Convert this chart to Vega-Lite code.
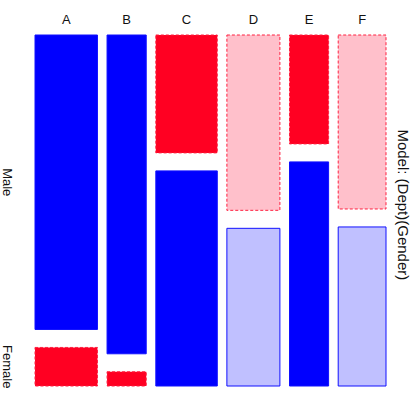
{
  "$schema": "https://vega.github.io/schema/vega-lite/v6.json",
  "width": 351,
  "height": 351,
  "autosize": "none",
  "padding": {"left": 35, "top": 35, "right": 31, "bottom": 13},
  "background": "white",
  "config": {"view": {"stroke": null}, "text": {"font": "Liberation Sans", "color": "#111111"}},
  "data": {"values": [
    {"Dept": "A", "Gender": "Male", "Count": 825, "Residual": 11.48},
    {"Dept": "A", "Gender": "Female", "Count": 108, "Residual": -13.90},
    {"Dept": "B", "Gender": "Male", "Count": 560, "Residual": 11.38},
    {"Dept": "B", "Gender": "Female", "Count": 25, "Residual": -13.78},
    {"Dept": "C", "Gender": "Male", "Count": 325, "Residual": -9.45},
    {"Dept": "C", "Gender": "Female", "Count": 593, "Residual": 11.45},
    {"Dept": "D", "Gender": "Male", "Count": 417, "Residual": -2.48},
    {"Dept": "D", "Gender": "Female", "Count": 375, "Residual": 3.01},
    {"Dept": "E", "Gender": "Male", "Count": 191, "Residual": -8.38},
    {"Dept": "E", "Gender": "Female", "Count": 393, "Residual": 10.15},
    {"Dept": "F", "Gender": "Male", "Count": 373, "Residual": -2.50},
    {"Dept": "F", "Gender": "Female", "Count": 341, "Residual": 3.03}
  ]},
  "transform": [
    {"window": [{"op": "dense_rank", "as": "DeptIndex"}], "sort": [{"field": "Dept", "order": "ascending"}]},
    {"stack": "Count", "groupby": [], "sort": [{"field": "Dept", "order": "ascending"}, {"field": "Gender", "order": "descending"}], "as": ["cx0", "cx1"]},
    {"joinaggregate": [{"op": "min", "field": "cx0", "as": "DeptStart"}, {"op": "max", "field": "cx1", "as": "DeptEnd"}], "groupby": ["Dept"]},
    {"stack": "Count", "groupby": ["Dept"], "sort": [{"field": "Gender", "order": "descending"}], "offset": "normalize", "as": ["ny0", "ny1"]},
    {"calculate": "datum.DeptStart + (datum.DeptIndex - 1) * 143.4", "as": "x0"},
    {"calculate": "datum.DeptEnd + (datum.DeptIndex - 1) * 143.4", "as": "x1"},
    {"calculate": "(datum.x0 + datum.x1) / 2", "as": "xm"},
    {"calculate": "datum.Gender == 'Female' ? datum.ny0 + 0.054 : datum.ny0", "as": "yy0"},
    {"calculate": "datum.Gender == 'Female' ? datum.ny1 + 0.054 : datum.ny1", "as": "yy1"},
    {"calculate": "(datum.yy0 + datum.yy1) / 2", "as": "ym"}
  ],
  "layer": [
    {
      "transform": [{"filter": "datum.Residual >= 0"}],
      "mark": {"type": "rect", "strokeWidth": 1, "stroke": "#1010FF", "strokeJoin": "miter", "cornerRadius": 0},
      "encoding": {
        "x": {"field": "x0", "type": "quantitative", "scale": {"domain": [0, 5243], "nice": false, "zero": false}, "axis": null},
        "x2": {"field": "x1"},
        "y": {"field": "yy0", "type": "quantitative", "scale": {"domain": [0, 1.054], "reverse": true, "nice": false, "zero": false}, "axis": null},
        "y2": {"field": "yy1"},
        "fill": {"field": "Residual", "type": "quantitative", "scale": {"type": "threshold", "domain": [-4, -2, 2, 4], "range": ["#FF0022", "#FFC0CB", "#FFFFFF", "#C0C0FF", "#0000FF"]}, "legend": null}
      }
    },
    {
      "transform": [{"filter": "datum.Residual < 0"}],
      "mark": {"type": "rect", "strokeWidth": 1, "stroke": "#FF2040", "strokeDash": [3, 2], "strokeJoin": "miter", "cornerRadius": 0},
      "encoding": {
        "x": {"field": "x0", "type": "quantitative", "scale": {"domain": [0, 5243], "nice": false, "zero": false}, "axis": null},
        "x2": {"field": "x1"},
        "y": {"field": "yy0", "type": "quantitative", "scale": {"domain": [0, 1.054], "reverse": true, "nice": false, "zero": false}, "axis": null},
        "y2": {"field": "yy1"},
        "fill": {"field": "Residual", "type": "quantitative", "scale": {"type": "threshold", "domain": [-4, -2, 2, 4], "range": ["#FF0022", "#FFC0CB", "#FFFFFF", "#C0C0FF", "#0000FF"]}, "legend": null}
      }
    },
    {
      "transform": [{"filter": "datum.Gender == 'Male'"}],
      "mark": {"type": "text", "fontSize": 13, "baseline": "middle", "align": "center"},
      "encoding": {
        "x": {"field": "xm", "type": "quantitative"},
        "y": {"datum": -0.045, "type": "quantitative"},
        "text": {"field": "Dept"}
      }
    },
    {
      "transform": [{"filter": "datum.Dept == 'A'"}],
      "mark": {"type": "text", "fontSize": 13, "angle": 90, "baseline": "middle", "align": "center"},
      "encoding": {
        "x": {"datum": -418, "type": "quantitative"},
        "y": {"field": "ym", "type": "quantitative"},
        "text": {"field": "Gender"}
      }
    },
    {
      "transform": [{"filter": "datum.Dept == 'A' && datum.Gender == 'Male'"}],
      "mark": {"type": "text", "fontSize": 15, "angle": 90, "baseline": "middle", "align": "center"},
      "encoding": {
        "x": {"datum": 5497, "type": "quantitative"},
        "y": {"datum": 0.51, "type": "quantitative"},
        "text": {"value": "Model: (Dept)(Gender)"}
      }
    }
  ]
}
